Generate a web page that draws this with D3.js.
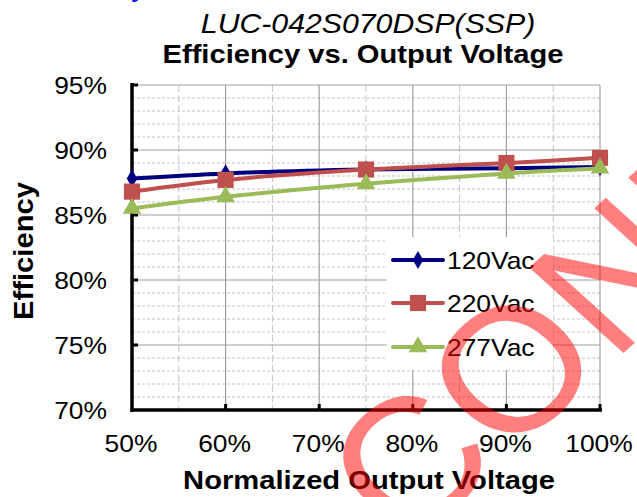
<!DOCTYPE html>
<html>
<head>
<meta charset="utf-8">
<script src="https://cdn.jsdelivr.net/npm/d3@7"></script>
<style>
  html, body { margin: 0; padding: 0; background: #fff; }
  svg { display: block; font-family: "Liberation Sans", Arial, sans-serif; }
</style>
</head>
<body>
<svg id="chart" width="637" height="497"></svg>
<script>
// ---- data ----
const outputVoltage = [50, 60, 75, 90, 100];            // normalized output voltage (%)
const eff120 = [87.8, 88.2, 88.5, 88.6, 88.7];          // 120Vac
const eff220 = [86.8, 87.7, 88.5, 89.0, 89.4];          // 220Vac
const eff277 = [85.5, 86.4, 87.4, 88.2, 88.6];          // 277Vac
const seriesNames = ["120Vac", "220Vac", "277Vac"];
const yTicks = [70, 75, 80, 85, 90, 95];
const xTicks = [50, 60, 70, 80, 90, 100];
const titleModel = "LUC-042S070DSP(SSP)";
const titleMain = "Efficiency vs. Output Voltage";
const xTitle = "Normalized Output Voltage";
const yTitle = "Efficiency";
const watermark = "CONFIDENTIAL";

// ---- layout ----
const svg = d3.select("#chart");
const L = 132, R = 600, T = 85, B = 410;
const SX = 1.1; // horizontal stretch of the original image text
const x = d3.scaleLinear().domain([50, 100]).range([L, R]);
const y = d3.scaleLinear().domain([70, 95]).range([B, T]);

const colors = ["#000080", "#C0504D", "#9BBB59"];
const series = [eff120, eff220, eff277].map((v, i) => ({
  name: seriesNames[i], color: colors[i],
  pts: outputVoltage.map((xv, j) => [xv, v[j]])
}));

function stretchedText(g, tx, ty, str, opts) {
  const t = g.append("text")
    .attr("transform", `translate(${tx},${ty}) scale(${opts.sx || SX},1)`)
    .attr("text-anchor", opts.anchor || "middle")
    .attr("font-size", opts.size)
    .attr("font-weight", opts.weight || "normal")
    .attr("font-style", opts.style || "normal")
    .attr("fill", opts.fill || "#000")
    .text(str);
  return t;
}

// ---- gridlines ----
const grid = svg.append("g");
const minorY = d3.range(71, 95, 1).filter(v => v % 5 !== 0);
grid.selectAll(".minY").data(minorY).join("line")
  .attr("x1", L).attr("x2", R).attr("y1", d => y(d)).attr("y2", d => y(d))
  .attr("stroke", "#C4C4C4").attr("stroke-width", 1).attr("stroke-dasharray", "3,2");
const minorX = [55, 65, 75, 85, 95];
grid.selectAll(".minX").data(minorX).join("line")
  .attr("y1", T).attr("y2", B).attr("x1", d => x(d)).attr("x2", d => x(d))
  .attr("stroke", "#C4C4C4").attr("stroke-width", 1).attr("stroke-dasharray", "7,3");
grid.selectAll(".majY").data(yTicks.filter(v => v > 70)).join("line")
  .attr("x1", L).attr("x2", R).attr("y1", d => y(d)).attr("y2", d => y(d))
  .attr("stroke", "#A0A0A0").attr("stroke-width", 1.2);
grid.selectAll(".majX").data(xTicks.filter(v => v > 50)).join("line")
  .attr("y1", T).attr("y2", B).attr("x1", d => x(d)).attr("x2", d => x(d))
  .attr("stroke", "#A0A0A0").attr("stroke-width", 1.2);

// legend background (hides gridlines behind it)
svg.append("rect").attr("x", 387).attr("y", 237).attr("width", 166).attr("height", 133).attr("fill", "#fff");

// ---- axes ----
const ax = svg.append("g").attr("stroke", "#000");
ax.append("line").attr("x1", L).attr("x2", L).attr("y1", T - 2).attr("y2", B + 2).attr("stroke-width", 3.5);
ax.append("line").attr("x1", L - 1.5).attr("x2", R + 2).attr("y1", B).attr("y2", B).attr("stroke-width", 3.5);
ax.selectAll(".yt").data(yTicks.filter(v => v > 70)).join("line")
  .attr("x1", L).attr("x2", L + 6).attr("y1", d => y(d)).attr("y2", d => y(d)).attr("stroke-width", 3);
ax.selectAll(".xt").data(xTicks.filter(v => v > 50)).join("line")
  .attr("y1", B).attr("y2", B - 6).attr("x1", d => x(d)).attr("x2", d => x(d)).attr("stroke-width", 3);

// tick labels
const labels = svg.append("g");
yTicks.forEach(v => stretchedText(labels, 107, y(v) + 8.5, v + "%", { size: 24, anchor: "end" }));
xTicks.forEach(v => stretchedText(labels, x(v) - 1, 452, v + "%", { size: 24, anchor: "middle" }));

// titles
stretchedText(svg, 368, 33, titleModel, { size: 27.5, style: "italic" });
stretchedText(svg, 363, 63, titleMain, { size: 26.5, weight: "bold" });
stretchedText(svg, 369, 489, xTitle, { size: 26.5, weight: "bold" });
svg.append("text")
  .attr("transform", "translate(33,251) rotate(-90)")
  .attr("text-anchor", "middle").attr("font-size", 27).attr("font-weight", "bold")
  .attr("textLength", 138).attr("lengthAdjust", "spacingAndGlyphs")
  .text(yTitle);
// cut-off blue text at the very top
svg.append("text").attr("x", 133).attr("y", -3).attr("font-size", 24)
  .attr("font-weight", "bold").attr("font-style", "italic").attr("fill", "#1010FF").text("y");

// ---- series ----
const line = d3.line().x(d => x(d[0])).y(d => y(d[1])).curve(d3.curveCatmullRom.alpha(0.5));
const sym = [d3.symbolDiamond, d3.symbolSquare, d3.symbolTriangle];
const symSize = [95, 260, 150];
series.forEach((s, i) => {
  const g = svg.append("g");
  g.append("path").datum(s.pts).attr("d", line)
    .attr("fill", "none").attr("stroke", s.color).attr("stroke-width", 4).attr("stroke-linejoin", "round");
  g.selectAll("path.m").data(s.pts).join("path").attr("class", "m")
    .attr("transform", d => `translate(${x(d[0])},${y(d[1])})`)
    .attr("d", d3.symbol(sym[i], symSize[i])())
    .attr("fill", s.color);
});

// ---- legend ----
const legY = [260, 303, 347];
series.forEach((s, i) => {
  const g = svg.append("g");
  g.append("line").attr("x1", 393).attr("x2", 443).attr("y1", legY[i]).attr("y2", legY[i])
    .attr("stroke", s.color).attr("stroke-width", 4).attr("stroke-linecap", "round");
  g.append("path").attr("transform", `translate(418,${legY[i]})`)
    .attr("d", d3.symbol(sym[i], symSize[i])()).attr("fill", s.color);
  stretchedText(g, 447, legY[i] + 8.5, s.name, { size: 24, anchor: "start" });
});

// ---- watermark ----
svg.append("text")
  .attr("transform", `scale(${SX},1) translate(370,550) rotate(-45)`)
  .attr("font-size", 176).attr("fill", "#FF0000").attr("fill-opacity", 0.5)
  .text(watermark);
</script>
</body>
</html>
